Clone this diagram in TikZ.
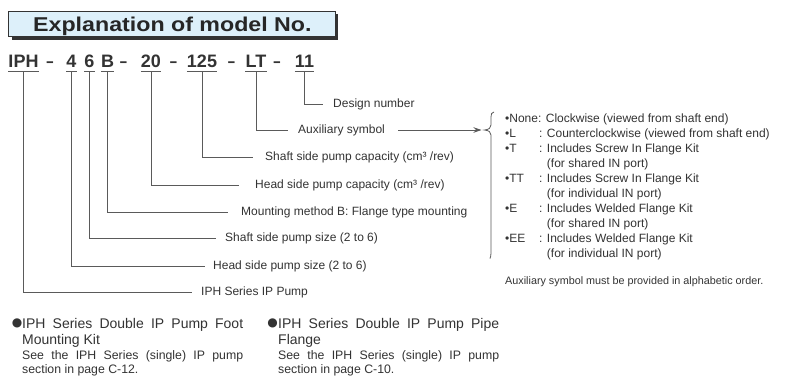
\documentclass[tikz,border=0pt]{standalone}
\usepackage{fontspec}
\usepackage{graphicx}
\setmainfont{Liberation Sans}
\newfontfamily\djv{DejaVu Sans}
\usetikzlibrary{arrows.meta,shadows}
\definecolor{txt}{HTML}{333333}
\definecolor{lnc}{HTML}{5A5A5A}
\definecolor{titlefill}{HTML}{DDF0FA}
\newcommand\lstitem[2]{\makebox[34pt][l]{•#1}: #2}
\newcommand\lstcont[1]{\hphantom{\makebox[34pt]{}: }#1}
\newcommand\tokdash{\scalebox{0.72}[1]{–}}
\begin{document}
\begin{tikzpicture}[x=1pt,y=-1pt,
  tok/.style={inner sep=0pt,anchor=base,text=txt,font=\bfseries\fontsize{18}{20}\selectfont},
  lbl/.style={inner sep=0pt,anchor=west,text=txt,font=\fontsize{12}{14}\selectfont},
  conn/.style={draw=lnc,line width=0.9pt},
  uline/.style={draw=lnc,line width=0.9pt},
  titlebox/.style={draw=txt,line width=0.9pt,fill=titlefill,
     drop shadow={shadow xshift=3pt,shadow yshift=-3pt,fill=black!80,opacity=1}},
  titletext/.style={inner sep=0pt,anchor=base west,text=black!85,font=\bfseries\fontsize{20}{22}\selectfont},
  headtxt/.style={anchor=base west,inner sep=0pt,align=left,text=txt,font=\fontsize{14}{16}\selectfont},
  bodytxt/.style={anchor=base west,inner sep=0pt,align=left,text=txt,font=\fontsize{12.3}{14}\selectfont},
  bigdot/.style={inner sep=0pt,text=txt,font=\djv\fontsize{12}{14}\selectfont}
]
\useasboundingbox (0,0) rectangle (806,381);
\fill[white] (0,0) rectangle (806,381);

% title
\path[titlebox] (8.5,11) rectangle (335,36.5);
\node[titletext] (title) at (33,31) {\scalebox{1.16}[1]{Explanation of model No.}};

% model number tokens
\node[tok] (t1) at (23.5,67) {IPH};
\node[tok] (d1) at (50,67) {\tokdash};
\node[tok] (t2) at (71.5,67) {4};
\node[tok] (t3) at (89.5,67) {6};
\node[tok] (t4) at (107.5,67) {B};
\node[tok] (d2) at (123.5,67) {\tokdash};
\node[tok] (t5) at (151,67) {20};
\node[tok] (d3) at (173.5,67) {\tokdash};
\node[tok] (t6) at (202,67) {125};
\node[tok] (d4) at (231.5,67) {\tokdash};
\node[tok] (t7) at (256,67) {LT};
\node[tok] (d5) at (277,67) {\tokdash};
\node[tok] (t8) at (304.5,67) {11};

\foreach \t in {t1,t2,t3,t4,t5,t6,t7,t8}
  \draw[uline] ([yshift=-4.5pt]\t.base west) -- ([yshift=-4.5pt]\t.base east);

% labels
\node[lbl] (dsg) at (333,104) {Design number};
\node[lbl] (aux) at (298,130) {Auxiliary symbol};
\node[lbl] (scap) at (265,157) {Shaft side pump capacity (cm³ /rev)};
\node[lbl] (hcap) at (255,185) {Head side pump capacity (cm³ /rev)};
\node[lbl] (mnt) at (241,212) {Mounting method B: Flange type mounting};
\node[lbl] (ssz) at (225,238) {Shaft side pump size (2 to 6)};
\node[lbl] (hsz) at (213,266) {Head side pump size (2 to 6)};
\node[lbl] (ser) at (201,292) {IPH Series IP Pump};

% connectors
\draw[conn] ([yshift=-4.5pt]t8.base) |- ([xshift=-10pt]dsg.west);
\draw[conn] ([yshift=-4.5pt]t7.base) |- ([xshift=-10pt]aux.west);
\draw[conn] ([yshift=-4.5pt]t6.base) |- ([xshift=-12pt]scap.west);
\draw[conn] ([yshift=-4.5pt]t5.base) |- ([xshift=-16pt]hcap.west);
\draw[conn] ([yshift=-4.5pt]t4.base) |- ([xshift=-13pt]mnt.west);
\draw[conn] ([yshift=-4.5pt]t3.base) |- ([xshift=-9pt]ssz.west);
\draw[conn] ([yshift=-4.5pt]t2.base) |- ([xshift=-8pt]hsz.west);
\draw[conn] ([yshift=-4.5pt]t1.base) |- ([xshift=-9pt]ser.west);

% brace and arrow
\coordinate (btip) at (484.5,130);
\draw[conn,line width=0.8pt] (494,112) .. controls (491.5,112.5) and (491,114) .. (491,117) -- (491,125)
  .. controls (491,128) and (489,129.5) .. (btip)
  .. controls (489,130.5) and (491,132) .. (491,135) -- (491,253)
  .. controls (491,256) and (490.5,257) .. (490,258.5);
\draw[conn,-{Stealth[length=8pt,width=5.5pt]}] ([xshift=13pt]aux.east) -- ([xshift=-3pt]btip);

% list
\node[anchor=north west,inner sep=0pt,align=left,text=txt,font=\fontsize{12}{15}\selectfont] (lst) at (505,114)
{•None: Clockwise (viewed from shaft end)\\
\lstitem{L}{Counterclockwise (viewed from shaft end)}\\
\lstitem{T}{Includes Screw In Flange Kit}\\
\lstcont{(for shared IN port)}\\
\lstitem{TT}{Includes Screw In Flange Kit}\\
\lstcont{(for individual IN port)}\\
\lstitem{E}{Includes Welded Flange Kit}\\
\lstcont{(for shared IN port)}\\
\lstitem{EE}{Includes Welded Flange Kit}\\
\lstcont{(for individual IN port)}};

\node[lbl,font=\fontsize{10.8}{12}\selectfont] (note) at (505,282) {Auxiliary symbol must be provided in alphabetic order.};

% bottom columns (base anchor = baseline of last line)
\node[bigdot] (b1) at (17,323) {●};
\node[headtxt] (fh) at (22,344)
  {\makebox[221pt][s]{IPH Series Double IP Pump Foot}\\Mounting Kit};
\node[bodytxt] (fb) at (22,373.5)
  {\makebox[221pt][s]{See the IPH Series (single) IP pump}\\section in page C-12.};

\node[bigdot] (b2) at (272.5,323) {●};
\node[headtxt] (ph) at (278,344)
  {\makebox[221pt][s]{IPH Series Double IP Pump Pipe}\\Flange};
\node[bodytxt] (pb) at (278,373.5)
  {\makebox[221pt][s]{See the IPH Series (single) IP pump}\\section in page C-10.};
\end{tikzpicture}
\end{document}
